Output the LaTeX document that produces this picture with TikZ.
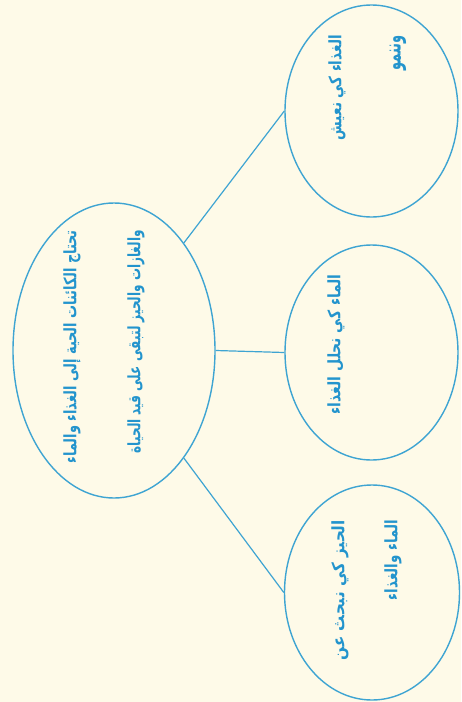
\documentclass[tikz,border=0pt]{standalone}
\usepackage{fontspec}
\usepackage{graphicx}
\usetikzlibrary{shapes.geometric}
\TeXXeTstate=1
\newfontfamily\arabicfont[Script=Arabic]{DejaVu Sans}
\definecolor{bgcream}{RGB}{254,250,232}
\definecolor{linkblue}{RGB}{62,164,210}
\definecolor{txtblue}{RGB}{35,148,205}
\begin{document}
\begin{tikzpicture}[x=1pt,y=-1pt,
  bub/.style={ellipse, draw=linkblue, line width=1.4pt, inner sep=0pt},
  lab/.style={rotate=90, anchor=east, inner sep=0pt, text=txtblue, font=\arabicfont\bfseries},
  link/.style={draw=linkblue, line width=1.2pt}]
\fill[bgcream] (0,0) rectangle (461,702);
\useasboundingbox (0,0) rectangle (461,702);
% ellipses
\node[bub, minimum width=202pt, minimum height=295pt] (c) at (114,350.5) {};
\node[bub, minimum width=173pt, minimum height=212pt] (t) at (371.5,111) {};
\node[bub, minimum width=173pt, minimum height=215pt] (m) at (371.5,352.5) {};
\node[bub, minimum width=175pt, minimum height=215pt] (b) at (372,592.5) {};
% connectors
\draw[link] (c.57.7) -- (t.180);
\draw[link] (c.east) -- (m.west);
\draw[link] (c.-57.7) -- (b.180);
% texts
\node[lab] (c1) at (72,230) {\resizebox{233pt}{13pt}{\beginR تحتاج الكائنات الحية إلى الغذاء والماء\endR}};
\node[lab] (c2) at (136,230) {\resizebox{223pt}{13pt}{\beginR والغازات والحيز لتبقى على قيد الحياة\endR}};
\node[lab] (t1) at (337,35) {\resizebox{105pt}{13pt}{\beginR الغذاء كي نعيش\endR}};
\node[lab] (t2) at (398,35) {\resizebox{35pt}{11pt}{\beginR وننمو\endR}};
\node[lab] (m1) at (336,274) {\resizebox{140pt}{13pt}{\beginR الماء كي نحلل الغذاء\endR}};
\node[lab] (b1) at (340,520) {\resizebox{140pt}{13pt}{\beginR الحيز كي نبحث عن\endR}};
\node[lab] (b2) at (393,520) {\resizebox{80pt}{13pt}{\beginR الماء والغذاء\endR}};
\end{tikzpicture}
\end{document}
